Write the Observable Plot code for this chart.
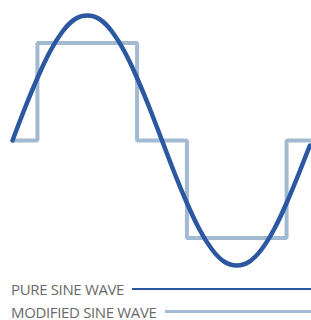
<!DOCTYPE html>
<html>
<head>
<meta charset="utf-8">
<script src="https://cdn.jsdelivr.net/npm/d3@7"></script>
<script src="https://cdn.jsdelivr.net/npm/@observablehq/plot@0.6"></script>
<style>
  html, body { margin: 0; padding: 0; background: #fff; overflow: hidden; }
  #chart svg { display: block; }
  .legend { width: 311px; margin-top: 2px; font-family: "Open Sans", "Liberation Sans", sans-serif; font-size: 15px; color: #6a6a6a; letter-spacing: -0.35px; }
  .row { display: flex; align-items: center; height: 23px; padding-left: 11px; }
  .row span { white-space: nowrap; text-transform: uppercase; }
  .row .ln { flex: 1; margin-left: 8px; }
</style>
</head>
<body>
<div id="chart"></div>
<div class="legend" id="legend"></div>
<script>
// Pure sine wave, read at 15° steps (phase in degrees, relative amplitude)
const sinePhase = [0,15,30,45,60,75,90,105,120,135,150,165,180,195,210,225,240,255,270,285,300,315,330,345,358];
const sineValue = [0,0.26,0.5,0.71,0.87,0.97,1,0.97,0.87,0.71,0.5,0.26,0,-0.26,-0.5,-0.71,-0.87,-0.97,-1,-0.97,-0.87,-0.71,-0.5,-0.26,-0.04];

// Modified (stepped) sine wave corners
const modPhase = [0,30,30,150,150,210,210,330,330,360];
const modValue = [0,0,0.78,0.78,0,0,-0.78,-0.78,0,0];

const seriesNames = ["Pure sine wave", "Modified sine wave"];
const seriesColors = ["#2c57a1", "#a3bad3"];

const sine = sinePhase.map((x, i) => ({x, y: sineValue[i]}));
const mod = modPhase.map((x, i) => ({x, y: modValue[i]}));

const chart = Plot.plot({
  width: 311,
  height: 275,
  marginLeft: 12,
  marginRight: 0,
  marginTop: 15,
  marginBottom: 10,
  x: {domain: [0, 360], axis: null},
  y: {domain: [-1, 1], axis: null},
  marks: [
    Plot.line(mod, {x: "x", y: "y", stroke: seriesColors[1], strokeWidth: 4, strokeLinejoin: "miter", strokeLinecap: "butt"}),
    Plot.line(sine, {x: "x", y: "y", stroke: seriesColors[0], strokeWidth: 4.5, curve: "natural"})
  ]
});
document.getElementById("chart").appendChild(chart);

const legend = document.getElementById("legend");
seriesNames.forEach((name, i) => {
  const row = document.createElement("div");
  row.className = "row";
  const t = document.createElement("span");
  t.textContent = name;
  const ln = document.createElement("div");
  ln.className = "ln";
  ln.style.borderTop = (i === 0 ? 2.5 : 3) + "px solid " + seriesColors[i];
  row.appendChild(t);
  row.appendChild(ln);
  legend.appendChild(row);
});
</script>
</body>
</html>
